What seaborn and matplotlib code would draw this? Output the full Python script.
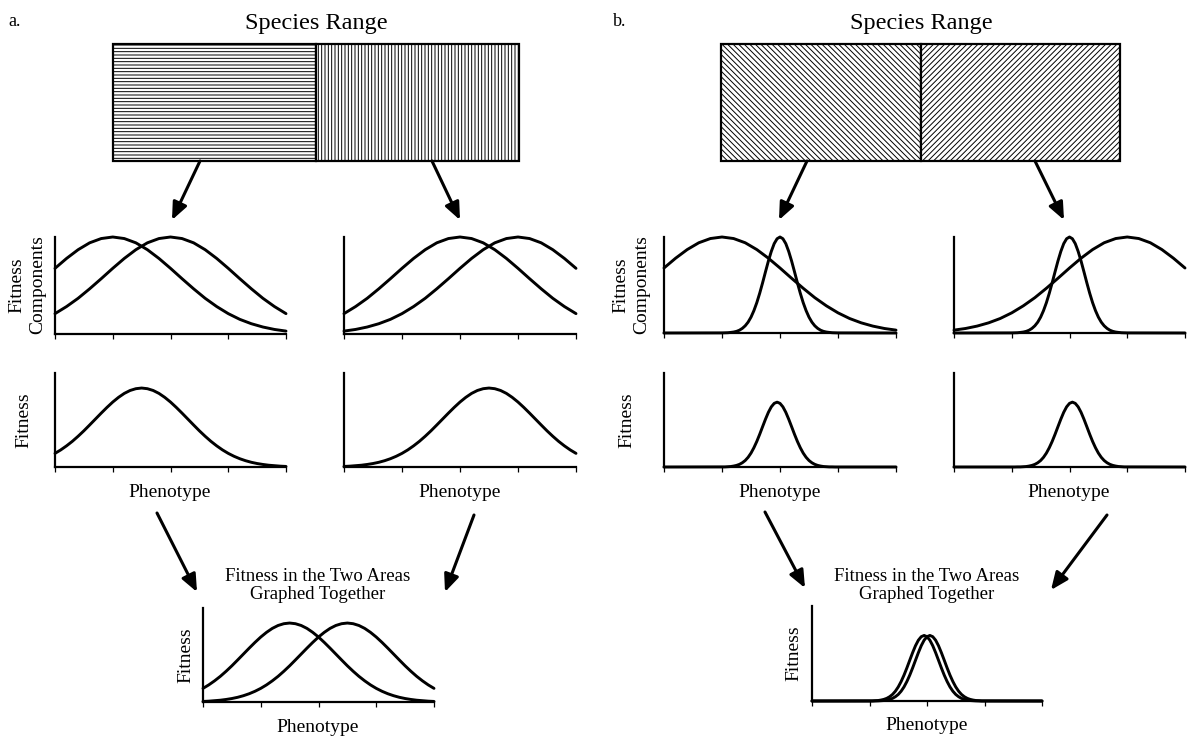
import matplotlib
matplotlib.use('Agg')
import matplotlib.pyplot as plt
import seaborn as sns
from matplotlib.patches import Rectangle

# --- data -----------------------------------------------------------------
# phenotype grids (axis runs 0..4, ticks at every unit)
phen_ticks = [0, 1, 2, 3, 4]
phen_broad = [0.0, 0.2, 0.4, 0.6, 0.8, 1.0, 1.2, 1.4, 1.6, 1.8, 2.0,
              2.2, 2.4, 2.6, 2.8, 3.0, 3.2, 3.4, 3.6, 3.8, 4.0]
phen_fine = [0.0, 0.1, 0.2, 0.3, 0.4, 0.5, 0.6, 0.7, 0.8, 0.9, 1.0,
             1.1, 1.2, 1.3, 1.4, 1.5, 1.6, 1.7, 1.8, 1.9, 2.0,
             2.1, 2.2, 2.3, 2.4, 2.5, 2.6, 2.7, 2.8, 2.9, 3.0,
             3.1, 3.2, 3.3, 3.4, 3.5, 3.6, 3.7, 3.8, 3.9, 4.0]
phen_narrow = [0.0,
               1.0, 1.05, 1.1, 1.15, 1.2, 1.25, 1.3, 1.35, 1.4, 1.45,
               1.5, 1.55, 1.6, 1.65, 1.7, 1.75, 1.8, 1.85, 1.9, 1.95,
               2.0, 2.05, 2.1, 2.15, 2.2, 2.25, 2.3, 2.35, 2.4, 2.45,
               2.5, 2.55, 2.6, 2.65, 2.7, 2.75, 2.8, 2.85, 2.9, 2.95,
               3.0, 4.0]

# broad fitness components (optimum at 1, 2 and 3)
comp_opt1 = [0.677, 0.779, 0.869, 0.940, 0.984, 1.0, 0.984, 0.940, 0.869, 0.779, 0.677,
             0.570, 0.466, 0.368, 0.283, 0.210, 0.151, 0.106, 0.072, 0.047, 0.030]
comp_opt2 = [0.210, 0.283, 0.368, 0.466, 0.570, 0.677, 0.779, 0.869, 0.940, 0.984, 1.0,
             0.984, 0.940, 0.869, 0.779, 0.677, 0.570, 0.466, 0.368, 0.283, 0.210]
comp_opt3 = [0.030, 0.047, 0.072, 0.106, 0.151, 0.210, 0.283, 0.368, 0.466, 0.570, 0.677,
             0.779, 0.869, 0.940, 0.984, 1.0, 0.984, 0.940, 0.869, 0.779, 0.677]

# narrow fitness component (panel b)
comp_narrow = [0.0,
               0.001, 0.002, 0.003, 0.006, 0.010, 0.017, 0.029, 0.048, 0.075, 0.113,
               0.165, 0.233, 0.316, 0.414, 0.523, 0.638, 0.750, 0.850, 0.931, 0.982,
               1.0, 0.982, 0.931, 0.850, 0.750, 0.638, 0.523, 0.414, 0.316, 0.233,
               0.165, 0.113, 0.075, 0.048, 0.029, 0.017, 0.010, 0.006, 0.003, 0.002,
               0.001, 0.0]

# overall fitness, panel a (left area / right area)
fit_a_left = [0.145, 0.182, 0.225, 0.273, 0.327, 0.385, 0.447, 0.510, 0.573, 0.634, 0.691,
              0.741, 0.783, 0.814, 0.833, 0.840, 0.833, 0.814, 0.783, 0.741, 0.691,
              0.634, 0.573, 0.510, 0.447, 0.385, 0.327, 0.273, 0.225, 0.182, 0.145,
              0.114, 0.088, 0.067, 0.050, 0.037, 0.027, 0.019, 0.014, 0.009, 0.006]
fit_a_right = [0.006, 0.009, 0.014, 0.019, 0.027, 0.037, 0.050, 0.067, 0.088, 0.114, 0.145,
               0.182, 0.225, 0.273, 0.327, 0.385, 0.447, 0.510, 0.573, 0.634, 0.691,
               0.741, 0.783, 0.814, 0.833, 0.840, 0.833, 0.814, 0.783, 0.741, 0.691,
               0.634, 0.573, 0.510, 0.447, 0.385, 0.327, 0.273, 0.225, 0.182, 0.145]

# overall fitness, panel b
fit_b_left = [0.0,
              0.001, 0.001, 0.003, 0.005, 0.010, 0.017, 0.028, 0.045, 0.069, 0.103,
              0.148, 0.205, 0.272, 0.348, 0.429, 0.509, 0.582, 0.640, 0.677, 0.690,
              0.677, 0.640, 0.582, 0.509, 0.429, 0.348, 0.272, 0.205, 0.148, 0.103,
              0.069, 0.045, 0.028, 0.017, 0.010, 0.005, 0.003, 0.001, 0.001, 0.0,
              0.0, 0.0]
fit_b_right = [0.0,
               0.0, 0.0, 0.001, 0.001, 0.003, 0.005, 0.010, 0.017, 0.028, 0.045,
               0.069, 0.103, 0.148, 0.205, 0.272, 0.348, 0.429, 0.509, 0.582, 0.640,
               0.677, 0.690, 0.677, 0.640, 0.582, 0.509, 0.429, 0.348, 0.272, 0.205,
               0.148, 0.103, 0.069, 0.045, 0.028, 0.017, 0.010, 0.005, 0.003, 0.001,
               0.001, 0.0]

# --- style ------------------------------------------------------------------
sns.set_style('white')
plt.rcParams['font.family'] = ['Liberation Serif', 'DejaVu Serif']
plt.rcParams['text.color'] = 'black'
plt.rcParams['hatch.linewidth'] = 0.7

W, H = 1191, 739
fig = plt.figure(figsize=(W / 100, H / 100), dpi=100)


def box(left, top, right, bottom):
    # pixel box -> figure fraction
    return [left / W, 1 - bottom / H, (right - left) / W, (bottom - top) / H]


def small_plot(rect, curves):
    ax = fig.add_axes(box(*rect))
    for xs, ys in curves:
        sns.lineplot(x=xs, y=ys, ax=ax, color='black', linewidth=2.1)
    for ln in ax.lines:
        ln.set_clip_on(False)
    ax.set_xlim(0, 4)
    ax.set_ylim(0, 1)
    ax.set_xticks(phen_ticks)
    ax.set_xticklabels([])
    ax.set_yticks([])
    sns.despine(ax=ax)
    for side in ['left', 'bottom']:
        ax.spines[side].set_linewidth(1.6)
        ax.spines[side].set_color('black')
    ax.tick_params(axis='x', direction='out', length=3.5, width=0.9, color='black', bottom=True)
    ax.set_facecolor('none')
    return ax


# panel a
small_plot((55, 237, 286, 334), [(phen_broad, comp_opt1), (phen_broad, comp_opt2)])
small_plot((344, 237, 576, 334), [(phen_broad, comp_opt2), (phen_broad, comp_opt3)])
small_plot((55, 373, 286, 467), [(phen_fine, fit_a_left)])
small_plot((344, 373, 576, 467), [(phen_fine, fit_a_right)])
small_plot((203, 608, 434, 702), [(phen_fine, fit_a_left), (phen_fine, fit_a_right)])

# panel b
small_plot((664, 237, 896, 333), [(phen_broad, comp_opt1), (phen_narrow, comp_narrow)])
small_plot((954, 237, 1185, 333), [(phen_narrow, comp_narrow), (phen_broad, comp_opt3)])
small_plot((664, 373, 896, 467), [(phen_narrow, fit_b_left)])
small_plot((954, 373, 1185, 467), [(phen_narrow, fit_b_right)])
small_plot((812, 606, 1042, 701), [(phen_narrow, fit_b_left), (phen_narrow, fit_b_right)])

# overlay in pixel coordinates for range boxes, arrows and labels
ov = fig.add_axes([0, 0, 1, 1])
ov.set_xlim(0, W)
ov.set_ylim(H, 0)
ov.axis('off')
ov.patch.set_alpha(0)

for x0, x1, hatch in [(113, 316, '-----'), (316, 519, '|||||'),
                      (721, 921, '\\\\\\\\\\\\'), (921, 1120, '//////')]:
    ov.add_patch(Rectangle((x0, 44), x1 - x0, 117, facecolor='white',
                           edgecolor='black', hatch=hatch, linewidth=1.6))

arrows = [((200, 161), (172, 220)), ((432, 161), (460, 220)),
          ((807, 161), (779, 220)), ((1035, 161), (1064, 220)),
          ((157, 513), (197, 592)), ((474, 515), (445, 592)),
          ((765, 512), (805, 588)), ((1107, 515), (1051, 590))]
for start, tip in arrows:
    ov.annotate('', xy=tip, xytext=start,
                arrowprops=dict(arrowstyle='-|>,head_length=0.75,head_width=0.32',
                                lw=2.2, color='black', mutation_scale=14,
                                shrinkA=0, shrinkB=0))

ov.text(8, 26, 'a.', fontsize=13, ha='left', va='baseline')
ov.text(613, 26, 'b.', fontsize=13, ha='left', va='baseline')
ov.text(316, 29, 'Species Range', fontsize=17.5, ha='center', va='baseline')
ov.text(921, 29, 'Species Range', fontsize=17.5, ha='center', va='baseline')

for cx in [27, 631]:
    ov.text(cx, 285, 'Fitness\nComponents', fontsize=14, rotation=90,
            ha='center', va='center', multialignment='center', linespacing=1.3)
for cx in [24, 627]:
    ov.text(cx, 420, 'Fitness', fontsize=14, rotation=90, ha='center', va='center')
ov.text(186, 655, 'Fitness', fontsize=14, rotation=90, ha='center', va='center')
ov.text(794, 653, 'Fitness', fontsize=14, rotation=90, ha='center', va='center')

for cx in [170, 460, 780, 1069]:
    ov.text(cx, 497, 'Phenotype', fontsize=14, ha='center', va='baseline')
ov.text(318, 732, 'Phenotype', fontsize=14, ha='center', va='baseline')
ov.text(927, 730, 'Phenotype', fontsize=14, ha='center', va='baseline')

for cx in [318, 927]:
    ov.text(cx, 581, 'Fitness in the Two Areas', fontsize=13.5, ha='center', va='baseline')
    ov.text(cx, 599, 'Graphed Together', fontsize=13.5, ha='center', va='baseline')

fig.savefig('out.png', dpi=100)
